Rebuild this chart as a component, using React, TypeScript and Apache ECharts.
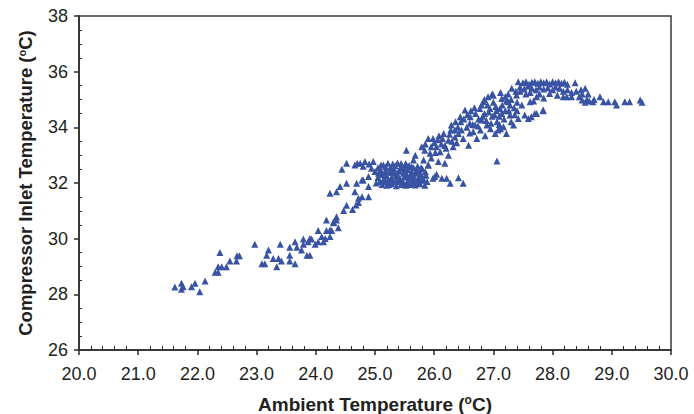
import React, { useEffect, useRef } from "react";
import * as echarts from "echarts";

const xTicks = { min: 20, max: 30, interval: 1 };
const yTicks = { min: 26, max: 38, interval: 2 };

const xTitle = "Ambient Temperature";
const yTitle = "Compressor Inlet Temperature";

const lowBand: [number, number][] = [
  [21.62, 28.26], [21.73, 28.4], [21.76, 28.27], [21.73, 28.18], [21.9, 28.27], [21.96, 28.4], [22.04, 28.09], [22.13, 28.48],
  [22.3, 28.79], [22.35, 28.79], [22.35, 28.99], [22.41, 28.99], [22.49, 28.99], [22.38, 29.5], [22.55, 29.2], [22.66, 29.2],
  [22.67, 29.39], [22.71, 29.39], [22.97, 29.8], [23.09, 29.1], [23.14, 29.1], [23.17, 29.4], [23.2, 29.59], [23.28, 29.29],
  [23.34, 28.99], [23.37, 29.29], [23.42, 29.2], [23.4, 29.8], [23.56, 29.4], [23.56, 29.2], [23.65, 29.1], [23.56, 29.69],
  [23.65, 29.89], [23.68, 29.69], [23.76, 29.59], [23.79, 29.8], [23.79, 29.99], [23.85, 29.4], [23.9, 29.4], [23.87, 29.89],
  [23.93, 29.99], [23.99, 29.8], [24.04, 29.89], [24.04, 30.29], [24.1, 30.08], [24.13, 29.89], [24.18, 30.29], [24.24, 30.08],
  [24.27, 30.29], [24.18, 30.67], [24.3, 30.57], [24.38, 30.39], [24.35, 30.67], [23.9, 30.01], [24.16, 30.01], [24.3, 30.61],
  [24.35, 30.79], [24.24, 30.31],
];

const riseBand: [number, number][] = [
  [24.47, 31.01], [24.52, 31.2], [24.68, 31.21], [24.72, 31.45], [24.78, 31.51], [24.89, 31.51], [24.66, 31.69], [24.69, 31.99],
  [24.52, 31.99], [24.41, 31.87], [24.35, 31.69], [24.24, 31.63], [24.44, 32.49], [24.52, 32.71], [24.78, 32.11], [24.89, 31.87],
  [24.8, 32.11], [24.89, 32.23], [24.66, 32.65], [24.75, 32.71], [24.83, 32.77], [24.97, 32.77], [24.94, 32.53], [25.0, 32.41],
  [25.06, 32.35], [24.7, 32.71], [24.8, 32.6], [24.9, 32.68], [24.72, 31.3], [24.62, 31.05],
];

const denseCluster: [number, number][] = [
  [25.1, 32.65], [25.14, 32.65], [25.22, 32.71], [25.3, 32.68], [25.38, 32.72], [25.45, 32.6], [25.52, 32.7], [25.58, 32.62],
  [25.65, 32.55], [25.72, 32.6], [25.8, 32.5], [25.05, 32.2], [25.12, 32.3], [25.18, 32.45], [25.25, 32.4], [25.32, 32.5],
  [25.4, 32.42], [25.48, 32.35], [25.55, 32.48], [25.62, 32.4], [25.7, 32.45], [25.78, 32.3], [25.85, 32.4], [25.08, 32.05],
  [25.15, 32.15], [25.22, 32.1], [25.28, 32.2], [25.35, 32.25], [25.42, 32.15], [25.5, 32.22], [25.58, 32.18], [25.65, 32.25],
  [25.72, 32.12], [25.8, 32.2], [25.88, 32.05], [25.12, 31.95], [25.2, 31.92], [25.28, 31.98], [25.36, 31.9], [25.44, 31.95],
  [25.52, 31.92], [25.6, 31.98], [25.68, 31.93], [25.76, 31.97], [25.84, 31.92], [25.02, 32.0], [25.25, 32.0], [25.4, 32.05],
  [25.55, 32.05], [25.7, 32.02], [25.33, 32.35], [25.46, 32.55], [25.6, 32.3], [25.75, 32.4], [25.18, 32.58], [25.9, 32.65],
  [25.82, 32.83], [25.05, 32.55], [25.1, 32.45], [25.16, 32.35], [25.2, 32.25], [25.26, 32.55], [25.3, 32.05], [25.34, 32.62],
  [25.38, 32.3], [25.42, 32.5], [25.46, 32.1], [25.5, 32.45], [25.54, 32.28], [25.58, 31.95], [25.62, 32.58], [25.66, 32.12],
  [25.68, 32.35], [25.74, 32.22], [25.78, 32.55], [25.82, 32.1], [25.86, 32.28], [25.14, 32.05], [25.24, 31.95], [25.48, 31.98],
  [25.64, 32.05], [25.36, 32.1], [25.56, 32.6], [25.44, 32.7], [25.28, 32.38],
];

const transition: [number, number][] = [
  [25.53, 33.18], [25.68, 33.0], [25.65, 32.83], [25.51, 32.65], [25.79, 33.3], [25.84, 33.18], [25.9, 33.6], [25.98, 33.6],
  [25.93, 33.07], [26.04, 33.3], [26.1, 33.12], [26.16, 33.78], [26.24, 33.54], [26.24, 33.0], [26.18, 32.71], [26.29, 34.08],
  [26.35, 33.9], [26.41, 33.78], [26.44, 34.38], [26.49, 33.6], [26.52, 34.62], [26.58, 33.36], [25.9, 32.65], [26.07, 32.77],
  [25.95, 32.9], [26.0, 33.45], [26.12, 33.4], [26.2, 33.25], [26.3, 33.5], [26.35, 33.65], [26.4, 34.0], [26.45, 34.2],
  [26.55, 34.0], [26.6, 33.8], [25.85, 33.4], [26.08, 33.7], [25.95, 33.3], [26.02, 33.1], [26.06, 33.55], [26.14, 33.6],
  [26.18, 33.35], [26.26, 33.75], [26.32, 33.3], [26.38, 33.45], [26.46, 33.9], [26.5, 34.3], [26.56, 34.45], [26.6, 34.15],
  [26.28, 33.9], [26.36, 34.2],
];

const lowerOutliers: [number, number][] = [
  [25.98, 32.17], [26.04, 32.31], [26.13, 32.17], [26.21, 32.17], [26.27, 31.99], [26.41, 32.19], [26.49, 31.99], [25.76, 32.11],
  [26.01, 32.23], [27.06, 32.79],
];

const upperBand: [number, number][] = [
  [26.61, 34.38], [26.66, 33.84], [26.69, 34.08], [26.72, 33.6], [26.77, 34.68], [26.8, 34.26], [26.83, 34.92], [26.89, 34.08],
  [26.91, 35.1], [26.94, 34.68], [27.03, 33.78], [27.06, 34.2], [27.11, 34.68], [27.14, 35.04], [27.17, 34.02], [27.22, 33.78],
  [27.25, 34.92], [27.28, 34.44], [27.31, 35.4], [27.34, 34.08], [27.39, 35.16], [27.42, 34.32], [27.48, 34.8], [27.53, 34.44],
  [27.59, 34.32], [27.62, 34.92], [27.64, 34.38], [27.73, 35.1], [27.73, 34.5], [27.84, 34.62], [27.7, 34.5], [27.84, 34.6],
  [26.7, 34.5], [26.75, 34.3], [26.85, 34.5], [26.9, 34.8], [26.98, 34.4], [27.0, 34.9], [27.05, 34.6], [27.1, 34.4],
  [27.15, 34.8], [27.2, 34.6], [27.2, 35.1], [27.28, 34.8], [27.35, 34.7], [27.4, 34.9], [27.45, 35.3], [26.65, 34.1],
  [26.78, 33.9], [26.86, 33.7], [26.95, 33.95], [27.08, 33.9], [27.3, 34.2], [26.62, 34.6], [26.8, 34.8], [27.0, 35.15],
  [27.12, 35.25], [27.25, 35.2], [26.68, 34.7], [26.74, 34.05], [26.82, 34.4], [26.88, 34.25], [26.92, 34.55], [26.96, 34.15],
  [27.02, 34.45], [27.04, 34.75], [27.1, 34.1], [27.14, 34.5], [27.18, 34.3], [27.22, 34.95], [27.26, 34.6], [27.3, 35.0],
  [27.36, 34.45], [27.38, 35.3], [26.85, 35.0], [26.98, 35.2], [27.12, 33.95], [27.4, 34.6],
];

const plateau: [number, number][] = [
  [27.42, 35.64], [27.5, 35.6], [27.55, 35.64], [27.6, 35.55], [27.65, 35.62], [27.7, 35.64], [27.75, 35.58], [27.8, 35.64],
  [27.85, 35.6], [27.9, 35.64], [27.95, 35.56], [28.0, 35.64], [28.05, 35.6], [28.1, 35.64], [28.15, 35.58], [28.2, 35.62],
  [28.25, 35.55], [28.38, 35.6], [27.45, 35.45], [27.52, 35.38], [27.58, 35.48], [27.65, 35.4], [27.72, 35.35], [27.78, 35.45],
  [27.85, 35.38], [27.92, 35.42], [28.0, 35.35], [28.05, 35.45], [28.12, 35.4], [28.18, 35.3], [28.25, 35.35], [28.32, 35.25],
  [28.4, 35.3], [28.48, 35.35], [28.5, 35.2], [27.55, 35.2], [27.62, 35.25], [27.78, 35.2], [27.95, 35.22], [28.08, 35.15],
  [28.18, 35.1], [28.24, 35.1], [28.32, 35.1], [28.45, 35.1], [28.55, 35.4], [28.6, 35.2], [27.68, 34.95], [27.85, 35.05],
];

const tail: [number, number][] = [
  [28.5, 34.98], [28.55, 34.9], [28.58, 35.0], [28.62, 34.95], [28.68, 34.92], [28.8, 35.1], [28.86, 34.92], [28.94, 34.92],
  [29.05, 34.92], [29.08, 34.8], [29.22, 34.92], [29.3, 34.92], [29.48, 34.98], [29.51, 34.9], [28.7, 35.0],
];

const allPoints = [
  ...lowBand, ...riseBand, ...denseCluster, ...transition, ...lowerOutliers, ...upperBand, ...plateau, ...tail,
];

const FONT = "'Liberation Sans', Arial, Helvetica, sans-serif";
const INK = "#231f20";
const MARK = "#3953a4";

function rich(size: number) {
  return {
    a: { fontSize: size, fontWeight: "bold" as const, fontFamily: FONT, color: INK },
    s: { fontSize: Math.round(size * 0.62), fontWeight: "bold" as const, fontFamily: FONT, color: INK, verticalAlign: "top" as const, padding: [0, 0, 8, 0] },
  };
}

export default function App() {
  const ref = useRef<HTMLDivElement>(null);
  useEffect(() => {
    if (!ref.current) return;
    const chart = echarts.init(ref.current, undefined, { renderer: "svg" });
    chart.setOption({
      animation: false,
      backgroundColor: "#ffffff",
      grid: {
        left: 79, right: 23, top: 16, bottom: 64,
        containLabel: false,
        outerBoundsMode: "none",
        show: true, borderColor: "#3a3a3a", borderWidth: 1.5, backgroundColor: "transparent",
      },
      xAxis: {
        type: "value",
        min: xTicks.min, max: xTicks.max, interval: xTicks.interval,
        name: `{a|${xTitle} (}{s|o}{a|C)}`,
        nameLocation: "middle",
        nameGap: 44,
        nameTextStyle: { rich: rich(19) },
        axisLine: { show: true, lineStyle: { color: "#2a2a2a", width: 1.5 } },
        axisTick: { show: true, inside: false, length: 5, lineStyle: { color: "#2a2a2a", width: 1.5 } },
        minorTick: { show: true, splitNumber: 5, length: -4, lineStyle: { color: "#2a2a2a", width: 1 } },
        splitLine: { show: false },
        axisLabel: {
          margin: 15, fontSize: 18, fontFamily: FONT, color: INK,
          formatter: (v: number) => v.toFixed(1),
        },
      },
      yAxis: {
        type: "value",
        min: yTicks.min, max: yTicks.max, interval: yTicks.interval,
        name: `{a|${yTitle} (}{s|o}{a|C)}`,
        nameLocation: "middle",
        nameGap: 44,
        nameRotate: 90,
        nameTextStyle: { rich: rich(18.5) },
        axisLine: { show: true, lineStyle: { color: "#2a2a2a", width: 1.5 } },
        axisTick: { show: true, inside: false, length: 5, lineStyle: { color: "#2a2a2a", width: 1.5 } },
        minorTick: { show: true, splitNumber: 4, length: -3, lineStyle: { color: "#2a2a2a", width: 1 } },
        splitLine: { show: false },
        axisLabel: { margin: 11, fontSize: 18, fontFamily: FONT, color: INK },
      },
      series: [
        {
          type: "scatter",
          data: allPoints,
          symbol: "triangle",
          symbolSize: 7,
          itemStyle: { color: MARK, opacity: 1 },
        },
      ],
    });
    return () => chart.dispose();
  }, []);
  return <div ref={ref} style={{ width: 694, height: 414, position: "absolute", left: 0, top: 0 }} />;
}
